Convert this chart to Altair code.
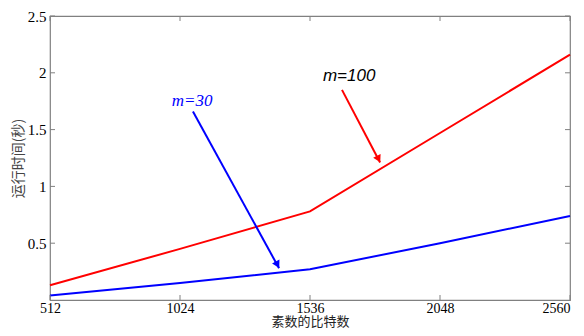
import altair as alt
import pandas as pd

bits = [512, 1024, 1536, 2048, 2560]
t_m100 = [0.13, 0.45, 0.78, 1.47, 2.16]
t_m30 = [0.04, 0.15, 0.27, 0.50, 0.74]
x_ticks = [512, 1024, 1536, 2048, 2560]
y_ticks = [0.5, 1.0, 1.5, 2.0, 2.5]

# annotations
ann_labels = ["m=100", "m=30"]
ann_tx = [1690, 1072]
ann_ty = [1.97, 1.75]
ann_x0 = [1662, 1075]
ann_y0 = [1.85, 1.66]
ann_x1 = [1812, 1414]
ann_y1 = [1.21, 0.28]
ann_hx = [1806, 1408]     # arrowhead centres
ann_hy = [1.24, 0.31]
ann_colors = ["#ff0000", "#0000ff"]
ann_angles = [152.5, 151.3]

W, H = 520, 284
SERIF = "Times New Roman, Liberation Serif, serif"
SANS = "Liberation Sans"
CJK = "Noto Sans CJK SC"

lines = pd.DataFrame({
    "bits": bits * 2,
    "t": t_m100 + t_m30,
    "series": ["m=100"] * len(bits) + ["m=30"] * len(bits),
})
ann = pd.DataFrame({
    "label": ann_labels, "tx": ann_tx, "ty": ann_ty,
    "x0": ann_x0, "y0": ann_y0, "x1": ann_x1, "y1": ann_y1,
    "hx": ann_hx, "hy": ann_hy,
    "color": ann_colors, "angle": ann_angles,
})
xt = pd.DataFrame({"v": x_ticks})
yt = pd.DataFrame({"v": y_ticks})

xs = alt.Scale(domain=[512, 2560], nice=False, zero=False)
ys = alt.Scale(domain=[0, 2.5], nice=False, zero=False)

base_x_axis = alt.Axis(values=x_ticks, ticks=False, domain=False, grid=False,
                       labelFont=SERIF, labelFontSize=14, labelColor="black",
                       labelPadding=1, title="素数的比特数", titleFont=CJK,
                       titleFontWeight="normal", titleFontSize=13, titleColor="#222222",
                       titleY=15, titleBaseline="top", format="d", labelFlush=False,
                       labelAlign=alt.expr("datum.value == 2560 ? 'right' : 'center'"))
base_y_axis = alt.Axis(values=y_ticks, ticks=False, domain=False, grid=False,
                       labelFont=SERIF, labelFontSize=15, labelColor="black",
                       labelPadding=4, title="运行时间(秒)", titleFont=CJK,
                       titleFontWeight="normal", titleFontSize=14, titleColor="#444444",
                       titleX=-25, titleY=H / 2, titleBaseline="bottom",
                       format="~g", labelFlush=False)

line_chart = alt.Chart(lines).mark_line(strokeWidth=2).encode(
    x=alt.X("bits:Q", scale=xs, axis=base_x_axis),
    y=alt.Y("t:Q", scale=ys, axis=base_y_axis),
    color=alt.Color("series:N", scale=alt.Scale(domain=["m=100", "m=30"],
                                                range=["#ff0000", "#0000ff"]), legend=None),
)

tick_color = "#808080"
xt_bottom = alt.Chart(xt).mark_rule(color=tick_color).encode(
    x=alt.X("v:Q", scale=xs), y=alt.value(H), y2=alt.value(H - 5))
xt_top = alt.Chart(xt).mark_rule(color=tick_color).encode(
    x=alt.X("v:Q", scale=xs), y=alt.value(0), y2=alt.value(5))
yt_left = alt.Chart(yt).mark_rule(color=tick_color).encode(
    y=alt.Y("v:Q", scale=ys), x=alt.value(0), x2=alt.value(5))
yt_right = alt.Chart(yt).mark_rule(color=tick_color).encode(
    y=alt.Y("v:Q", scale=ys), x=alt.value(W), x2=alt.value(W - 5))

arrow_lines = alt.Chart(ann).mark_rule(strokeWidth=2).encode(
    x=alt.X("x0:Q", scale=xs), y=alt.Y("y0:Q", scale=ys),
    x2="x1:Q", y2="y1:Q",
    color=alt.Color("color:N", scale=None),
)
arrow_heads = alt.Chart(ann).mark_point(
    shape="triangle-up", filled=True, size=70, opacity=1
).encode(
    x=alt.X("hx:Q", scale=xs), y=alt.Y("hy:Q", scale=ys),
    color=alt.Color("color:N", scale=None),
    angle=alt.Angle("angle:Q", scale=None),
)
txt100 = alt.Chart(ann[ann["label"] == "m=100"]).mark_text(
    font=SANS, fontStyle="italic", fontSize=17, color="black"
).encode(x=alt.X("tx:Q", scale=xs), y=alt.Y("ty:Q", scale=ys), text="label:N")
txt30 = alt.Chart(ann[ann["label"] == "m=30"]).mark_text(
    font=SERIF, fontStyle="italic", fontSize=17, color="#0000ff"
).encode(x=alt.X("tx:Q", scale=xs), y=alt.Y("ty:Q", scale=ys), text="label:N")

chart = alt.layer(
    line_chart, xt_bottom, xt_top, yt_left, yt_right, arrow_lines, arrow_heads, txt100, txt30
).properties(
    width=W, height=H,
    autosize=alt.AutoSizeParams(type="none"),
    padding={"left": 42, "top": 8, "right": 6, "bottom": 28},
    background="white",
).configure_view(stroke="#808080", strokeWidth=1.2)

chart.save("out.html", embed_options={"renderer": "svg", "actions": False})
